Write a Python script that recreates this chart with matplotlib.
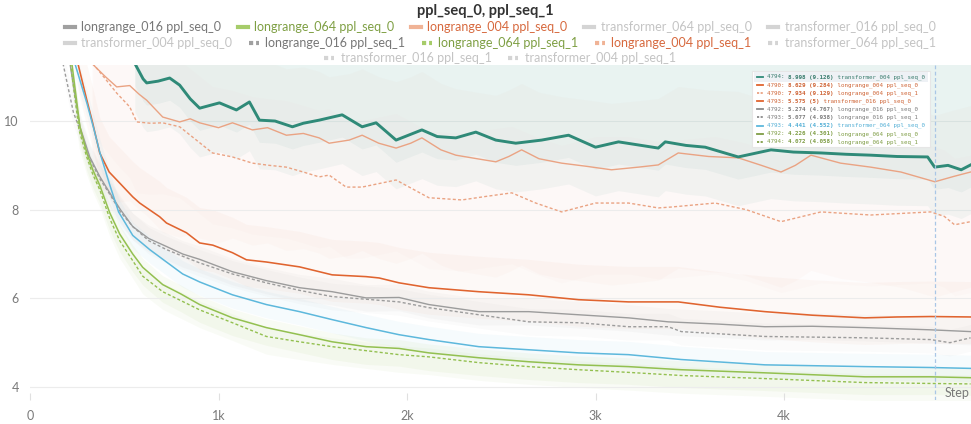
import matplotlib
matplotlib.use("Agg")
import numpy as np
import matplotlib.pyplot as plt
from matplotlib.lines import Line2D
from matplotlib.patches import Rectangle

plt.rcParams["font.family"] = ["Lato", "DejaVu Sans"]

# ---- data (smoothed curves) ----
t004_steps = [556, 600, 619, 680, 741, 794, 850, 900, 1005, 1095, 1164, 1217, 1300, 1392, 1450,
              1534, 1656, 1762, 1836, 1942, 2079, 2160, 2259, 2365, 2471, 2577, 2714, 2857, 3000,
              3122, 3228, 3333, 3370, 3480, 3582, 3757, 3931, 4050, 4196, 4330, 4460, 4600, 4762,
              4799, 4870, 4940, 4990]
t004_s0 = [11.3, 10.95, 10.86, 10.9, 10.97, 10.81, 10.5, 10.29, 10.41, 10.25, 10.43, 10.02, 10.0,
           9.87, 9.95, 10.02, 10.14, 9.87, 9.96, 9.57, 9.8, 9.65, 9.62, 9.75, 9.57, 9.5, 9.57,
           9.68, 9.41, 9.53, 9.46, 9.39, 9.53, 9.45, 9.41, 9.19, 9.35, 9.3, 9.28, 9.25, 9.23, 9.2,
           9.19, 8.96, 9.0, 8.9, 9.01]

lr004_s0_steps = [328, 400, 460, 529, 580, 619, 704, 794, 850, 900, 1000, 1074, 1180, 1260, 1360,
                  1450, 1534, 1587, 1693, 1762, 1850, 1942, 2020, 2079, 2180, 2259, 2371, 2471,
                  2540, 2608, 2700, 2820, 2950, 3085, 3228, 3333, 3439, 3600, 3757, 3880, 3984,
                  4060, 4143, 4300, 4460, 4620, 4800, 4900, 4990]
lr004_s0 = [11.3, 11.0, 10.77, 10.8, 10.6, 10.47, 10.09, 9.98, 10.05, 9.96, 9.85, 9.96, 9.8, 9.85,
            9.68, 9.72, 9.62, 9.5, 9.57, 9.68, 9.5, 9.39, 9.5, 9.62, 9.35, 9.23, 9.15, 9.08, 9.2,
            9.35, 9.15, 9.05, 8.98, 8.9, 8.96, 9.01, 9.28, 9.2, 9.17, 9.0, 8.85, 9.0, 9.23, 9.05,
            8.96, 8.85, 8.63, 8.75, 8.85]

lr004_s1_steps = [333, 400, 460, 529, 566, 640, 704, 794, 862, 968, 1074, 1180, 1270, 1360, 1450,
                  1534, 1587, 1677, 1762, 1942, 2116, 2291, 2420, 2556, 2683, 2820, 3000, 3175,
                  3333, 3402, 3635, 3800, 3984, 4196, 4460, 4778, 4850, 4905, 4990]
lr004_s1 = [11.3, 10.95, 10.63, 10.32, 9.98, 9.95, 9.96, 9.87, 9.64, 9.28, 9.19, 9.05, 9.0, 8.96,
            8.85, 8.74, 8.78, 8.51, 8.51, 8.67, 8.27, 8.22, 8.3, 8.38, 8.15, 7.95, 8.15, 8.15,
            8.04, 8.06, 8.15, 8.0, 7.73, 7.95, 7.88, 7.95, 7.85, 7.66, 7.73]

t016_steps = [254, 300, 330, 370, 420, 476, 545, 582, 688, 724, 830, 900, 970, 1074, 1148, 1254,
              1430, 1603, 1783, 1852, 1958, 2116, 2381, 2646, 2910, 3175, 3439, 3660, 3899, 4150,
              4429, 4600, 4778, 4990]
t016_s0 = [11.3, 10.5, 10.0, 9.28, 8.85, 8.6, 8.29, 8.15, 7.84, 7.7, 7.48, 7.25, 7.2, 7.03, 6.87,
           6.82, 6.71, 6.53, 6.49, 6.46, 6.35, 6.24, 6.15, 6.08, 5.97, 5.92, 5.92, 5.8, 5.7,
           5.62, 5.56, 5.58, 5.59, 5.58]

lr016_s0_steps = [212, 265, 317, 370, 423, 480, 545, 630, 724, 810, 900, 1074, 1254, 1430, 1603,
                  1783, 1958, 2116, 2381, 2646, 2910, 3175, 3386, 3650, 3899, 4150, 4429, 4778,
                  4990]
lr016_s0 = [11.3, 9.87, 9.19, 8.75, 8.38, 8.0, 7.62, 7.35, 7.17, 7.0, 6.88, 6.6, 6.4, 6.24, 6.15,
            6.01, 6.02, 5.86, 5.7, 5.7, 5.63, 5.56, 5.47, 5.42, 5.36, 5.37, 5.34, 5.29, 5.25]

lr016_s1_steps = [175, 230, 265, 317, 370, 423, 480, 545, 630, 724, 810, 900, 1074, 1254, 1430,
                  1603, 1783, 1958, 2116, 2381, 2646, 2910, 3175, 3386, 3455, 3899, 4429, 4778,
                  4880, 4990]
lr016_s1 = [11.3, 10.2, 9.8, 9.15, 8.7, 8.35, 7.95, 7.62, 7.3, 7.1, 6.95, 6.8, 6.55, 6.35, 6.18,
            6.04, 5.98, 5.92, 5.79, 5.63, 5.47, 5.45, 5.36, 5.36, 5.25, 5.14, 5.11, 5.07, 5.0,
            5.11]

t064_steps = [238, 302, 340, 370, 420, 470, 545, 635, 724, 810, 900, 1074, 1254, 1430, 1603, 1783,
              1958, 2116, 2381, 2646, 2910, 3175, 3455, 3899, 4429, 4778, 4990]
t064_s0 = [11.3, 10.4, 9.8, 9.3, 8.6, 7.95, 7.42, 7.1, 6.82, 6.55, 6.37, 6.08, 5.86, 5.7, 5.52,
           5.34, 5.18, 5.07, 4.91, 4.84, 4.77, 4.73, 4.62, 4.5, 4.46, 4.44, 4.42]

lr064_s0_steps = [222, 265, 300, 333, 370, 423, 476, 545, 598, 704, 800, 900, 1074, 1254, 1430,
                  1603, 1783, 1958, 2116, 2381, 2646, 2910, 3175, 3455, 3899, 4429, 4778, 4990]
lr064_s0 = [11.3, 9.87, 9.3, 8.9, 8.55, 7.93, 7.45, 7.0, 6.7, 6.31, 6.1, 5.86, 5.56, 5.34, 5.18,
            5.02, 4.91, 4.87, 4.77, 4.66, 4.57, 4.5, 4.46, 4.39, 4.32, 4.23, 4.23, 4.21]

lr064_s1_steps = [215, 260, 300, 333, 370, 423, 476, 545, 598, 704, 800, 900, 1074, 1254, 1430,
                  1603, 1783, 1958, 2116, 2381, 2646, 2910, 3175, 3455, 3899, 4429, 4778, 4990]
lr064_s1 = [11.3, 9.8, 9.2, 8.8, 8.45, 7.8, 7.3, 6.85, 6.5, 6.15, 5.95, 5.74, 5.45, 5.14, 5.02,
            4.91, 4.82, 4.73, 4.68, 4.55, 4.46, 4.39, 4.33, 4.26, 4.19, 4.1, 4.08, 4.07]

# hover readout (step, smoothed (raw), name)
hover_rows = [
    ("4794:", "8.998 (9.126)", "transformer_004 ppl_seq_0"),
    ("4790:", "8.629 (9.284)", "longrange_004 ppl_seq_0"),
    ("4790:", "7.934 (9.129)", "longrange_004 ppl_seq_1"),
    ("4793:", "5.575 (5)", "transformer_016 ppl_seq_0"),
    ("4792:", "5.274 (4.767)", "longrange_016 ppl_seq_0"),
    ("4793:", "5.077 (4.938)", "longrange_016 ppl_seq_1"),
    ("4793:", "4.441 (4.552)", "transformer_064 ppl_seq_0"),
    ("4792:", "4.226 (4.301)", "longrange_064 ppl_seq_0"),
    ("4794:", "4.072 (4.058)", "longrange_064 ppl_seq_1"),
]
hover_step = 4801

legend_rows = [
    ["longrange_016 ppl_seq_0", "longrange_064 ppl_seq_0", "longrange_004 ppl_seq_0",
     "transformer_064 ppl_seq_0", "transformer_016 ppl_seq_0"],
    ["transformer_004 ppl_seq_0", "longrange_016 ppl_seq_1", "longrange_064 ppl_seq_1",
     "longrange_004 ppl_seq_1", "transformer_064 ppl_seq_1"],
    ["transformer_016 ppl_seq_1", "transformer_004 ppl_seq_1"],
]

TEAL = "#2f8a78"
SALMON = "#eaa383"
ORANGE = "#e0642f"
GREY = "#9c9c9c"
BLUE = "#5db8dc"
GREEN = "#93c050"
DASH = (0, (2.2, 1.6))

fig = plt.figure(figsize=(9.71, 4.24), dpi=100)
ax = fig.add_axes([30 / 971, 1 - 400 / 424, 941 / 971, 335 / 424])

# (steps, values, color, dashed, lw, band below, band above, band alpha, zorder)
series = [
    (lr004_s0_steps, lr004_s0, SALMON, False, 1.0, 2.6, 1.5, 0.035, 3),
    (lr004_s1_steps, lr004_s1, SALMON, True, 1.0, 1.6, 1.5, 0.025, 3),
    (t016_steps, t016_s0, ORANGE, False, 1.15, 0.6, 0.8, 0.035, 4),
    (lr016_s0_steps, lr016_s0, GREY, False, 1.0, 0.3, 0.3, 0.05, 4),
    (lr016_s1_steps, lr016_s1, GREY, True, 1.0, 0.3, 0.3, 0.04, 4),
    (t064_steps, t064_s0, BLUE, False, 1.1, 0.3, 0.3, 0.05, 4),
    (lr064_s0_steps, lr064_s0, GREEN, False, 1.1, 0.4, 0.2, 0.06, 4),
    (lr064_s1_steps, lr064_s1, GREEN, True, 1.0, 0.4, 0.2, 0.05, 4),
]
for st, vals, col, dashed, lw, lo, hi, a, z in series:
    st = np.array(st)
    v = np.array(vals)
    ax.fill_between(st, v - lo, v + hi, color=col, alpha=a, lw=0, zorder=1)
    ax.plot(st, v, color=col, lw=lw, ls=DASH if dashed else "-", zorder=z)

# highlighted run: raw spikes as two bands, smoothed line on top
st = np.array(t004_steps)
v = np.array(t004_s0)
ax.fill_between(st, v - 0.5, 11.5, color=TEAL, alpha=0.10, lw=0, zorder=2)
ax.fill_between(st, v - 1.1, v - 0.5, color=TEAL, alpha=0.05, lw=0, zorder=2)
ax.plot(st, v, color=TEAL, lw=2.1, zorder=6)

ax.axvline(hover_step, color="#a9c6e6", lw=0.9, ls=(0, (3, 2)), zorder=7)

ax.set_xlim(0, 4992)
ax.set_ylim(3.707, 11.264)
ax.set_yticks([4, 6, 8, 10])
ax.set_xticks([0, 1000, 2000, 3000, 4000])
ax.set_xticklabels(["0", "1k", "2k", "3k", "4k"])
ax.grid(axis="y", color="#ececec", lw=0.8, zorder=0)
for s in ax.spines.values():
    s.set_visible(False)
ax.tick_params(axis="y", length=0, pad=8, labelsize=9, labelcolor="#7a7a7a")
ax.tick_params(axis="x", direction="in", length=5, color="#e0e0e0", pad=7,
               labelsize=9, labelcolor="#7a7a7a")
ax.text(0.998, 0.022, "Step", transform=ax.transAxes, ha="right", va="center",
        fontsize=9, color="#7a7a7a", zorder=8)

fig.text(0.5, 1 - 11 / 424, "ppl_seq_0, ppl_seq_1", ha="center", va="center",
         fontsize=10.5, fontweight="bold", color="#333333")

# legend, three centred rows
handle_style = {
    "longrange_016": ("#a0a0a0", "#777777"),
    "longrange_064": ("#a6cc6a", "#7e9f43"),
    "longrange_004": ("#f0b396", "#d7693e"),
    "transformer": ("#d4d4d4", "#c4c4c4"),
}
row_y = [1 - 27 / 424, 1 - 43 / 424, 1 - 58 / 424]
for labels, y in zip(legend_rows, row_y):
    handles, colors = [], []
    for lab in labels:
        key = "transformer" if lab.startswith("transformer") else lab.split()[0]
        hc, tc = handle_style[key]
        ls = (0, (1.0, 0.7)) if lab.endswith("seq_1") else "-"
        handles.append(Line2D([], [], color=hc, lw=3, ls=ls))
        colors.append(tc)
    fig.legend(handles, labels, loc="center", bbox_to_anchor=(0.515, y), ncol=len(labels),
               frameon=False, fontsize=9, handlelength=0.8, handletextpad=0.5,
               columnspacing=1.35, labelcolor=colors, borderpad=0, borderaxespad=0)

# hover tooltip
W, H = 971, 424
fig.patches.append(Rectangle((752 / W, 1 - 147 / H), 178 / W, 76 / H, transform=fig.transFigure,
                             facecolor="white", edgecolor="#e6e6e6", lw=0.8, zorder=10))
fig.patches.append(Rectangle((754 / W, 1 - 81.5 / H), 174 / W, 9 / H, transform=fig.transFigure,
                             facecolor="#eef1f5", edgecolor="none", zorder=11))
row_colors = ["#3a7d6e", "#cf6537", "#cf6537", "#cf6537", "#7c7c7c", "#7c7c7c", "#55b0d6",
              "#7f9d45", "#7f9d45"]
mark_colors = [TEAL, ORANGE, SALMON, ORANGE, "#8a8a8a", "#8a8a8a", BLUE, "#7f9d45", "#7f9d45"]
fs = 4.2
cw = 0.6 * fs * 100 / 72  # px per monospace char
for i, (pre, val, name) in enumerate(hover_rows):
    y = 1 - (77 + 8.1 * i) / H
    dashed = name.endswith("seq_1")
    fig.add_artist(Line2D([757 / W, 763 / W], [y, y], color=mark_colors[i], lw=1.3,
                          ls=(0, (1.2, 0.8)) if dashed else "-", zorder=12))
    x0 = 767
    for part, w in ((pre + " ", "normal"), (val, "bold"), (" " + name, "normal")):
        fig.text(x0 / W, y, part, fontsize=fs, family="DejaVu Sans Mono", fontweight=w,
                 color=row_colors[i], ha="left", va="center", zorder=13)
        x0 += len(part) * cw

fig.savefig("out.png", dpi=100)
